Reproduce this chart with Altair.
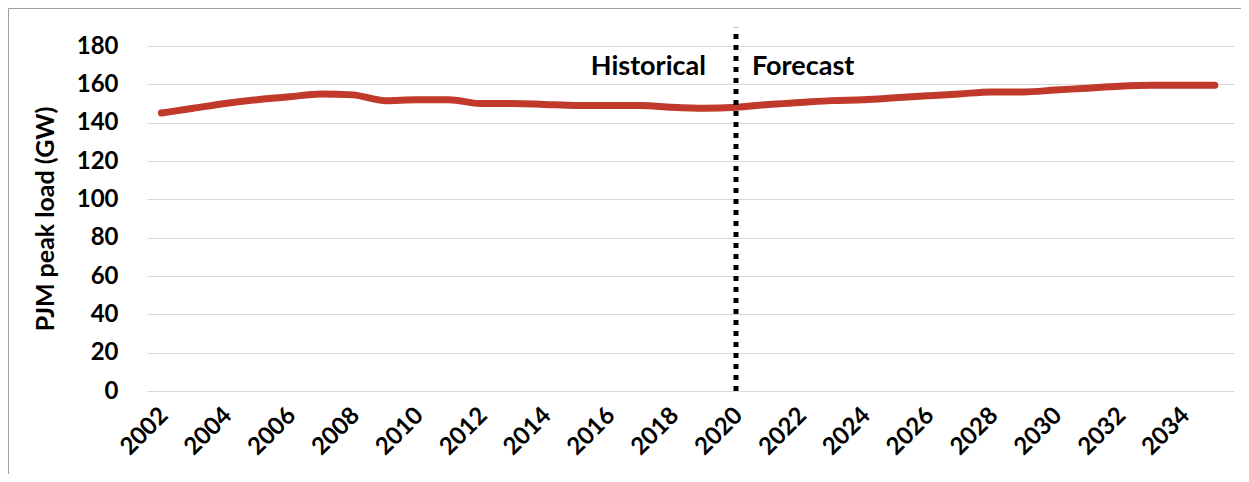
import altair as alt
import pandas as pd

# ---- data ----
years = list(range(2002, 2036))
peak_gw = [145, 147.5, 150, 152, 153.5, 155, 154.5, 151.5, 152, 152,
           150, 150, 149.5, 149, 149, 149, 148, 147.5, 148, 149.5,
           150.5, 151.5, 152, 153, 154, 155, 156, 156, 157, 158,
           159, 159.5, 159.5, 159.5]
tick_years = list(range(2002, 2035, 2))
y_ticks = list(range(0, 181, 20))
divider_year = [2020]
divider_top = [189.5]
label_hist = ["Historical"]
label_fcst = ["Forecast"]
label_level = [164.9]

FONT = "Lato"
RED = "#C0392B"

line_df = pd.DataFrame({"year": years, "load": peak_gw})
div_df = pd.DataFrame({"year": divider_year, "load": [0], "top": divider_top})
hist_df = pd.DataFrame({"year": divider_year, "load": label_level, "label": label_hist})
fcst_df = pd.DataFrame({"year": divider_year, "load": label_level, "label": label_fcst})
frame_df = pd.DataFrame({"k": [0]})

x_scale = alt.Scale(domain=[2001.55, 2035.6], nice=False, zero=False)
y_scale = alt.Scale(domain=[0, 180], nice=False)

x_axis = alt.Axis(values=tick_years, format="d", labelAngle=-45, labelFontSize=24,
                  labelFontWeight="bold", labelFont=FONT, labelColor="black",
                  labelAlign="right", labelBaseline="top",
                  grid=False, domain=False, ticks=False, labelPadding=12, labelOffset=-6,
                  title=None, labelOverlap=False, labelFlush=False)
y_axis = alt.Axis(values=y_ticks, labelFontSize=24, labelFontWeight="bold",
                  labelFont=FONT, labelColor="black", grid=True, gridColor="#d9d9d9",
                  gridWidth=1, domain=False, ticks=False, labelPadding=29,
                  labelOverlap=False, labelFlush=False,
                  title="PJM peak load (GW)", titleFont=FONT, titleFontSize=25,
                  titleFontWeight="bold", titleColor="black", titlePadding=18)

X = alt.X("year:Q", scale=x_scale, axis=x_axis)
Y = alt.Y("load:Q", scale=y_scale, axis=y_axis)

frame = alt.Chart(frame_df).mark_rect(filled=False, stroke="#a0a0a0", strokeWidth=1).encode(
    x=alt.value(-138.5), x2=alt.value(1300), y=alt.value(-37.5), y2=alt.value(600)
)

line = alt.Chart(line_df).mark_line(color=RED, strokeWidth=7, strokeCap="round",
                                    strokeJoin="round", interpolate="monotone").encode(
    x=X, y=Y,
)

divider = alt.Chart(div_df).mark_rule(color="black", strokeWidth=5, strokeDash=[5, 6]).encode(
    x=X, y=Y, y2="top:Q",
)

hist = alt.Chart(hist_df).mark_text(align="right", baseline="alphabetic", dx=-30,
                                    font=FONT, fontSize=27, fontWeight="bold",
                                    color="black").encode(
    x=X, y=Y, text="label:N",
)

fcst = alt.Chart(fcst_df).mark_text(align="left", baseline="alphabetic", dx=16,
                                    font=FONT, fontSize=27, fontWeight="bold",
                                    color="black").encode(
    x=X, y=Y, text="label:N",
)

chart = alt.layer(frame, line, divider, hist, fcst).properties(
    width=1087, height=345,
    autosize=alt.AutoSizeParams(type="none"),
    padding={"left": 139, "top": 38, "right": 7, "bottom": 83},
    background="white",
).configure_view(stroke=None)

chart.save("out.html", embed_options={"renderer": "svg", "actions": False})
